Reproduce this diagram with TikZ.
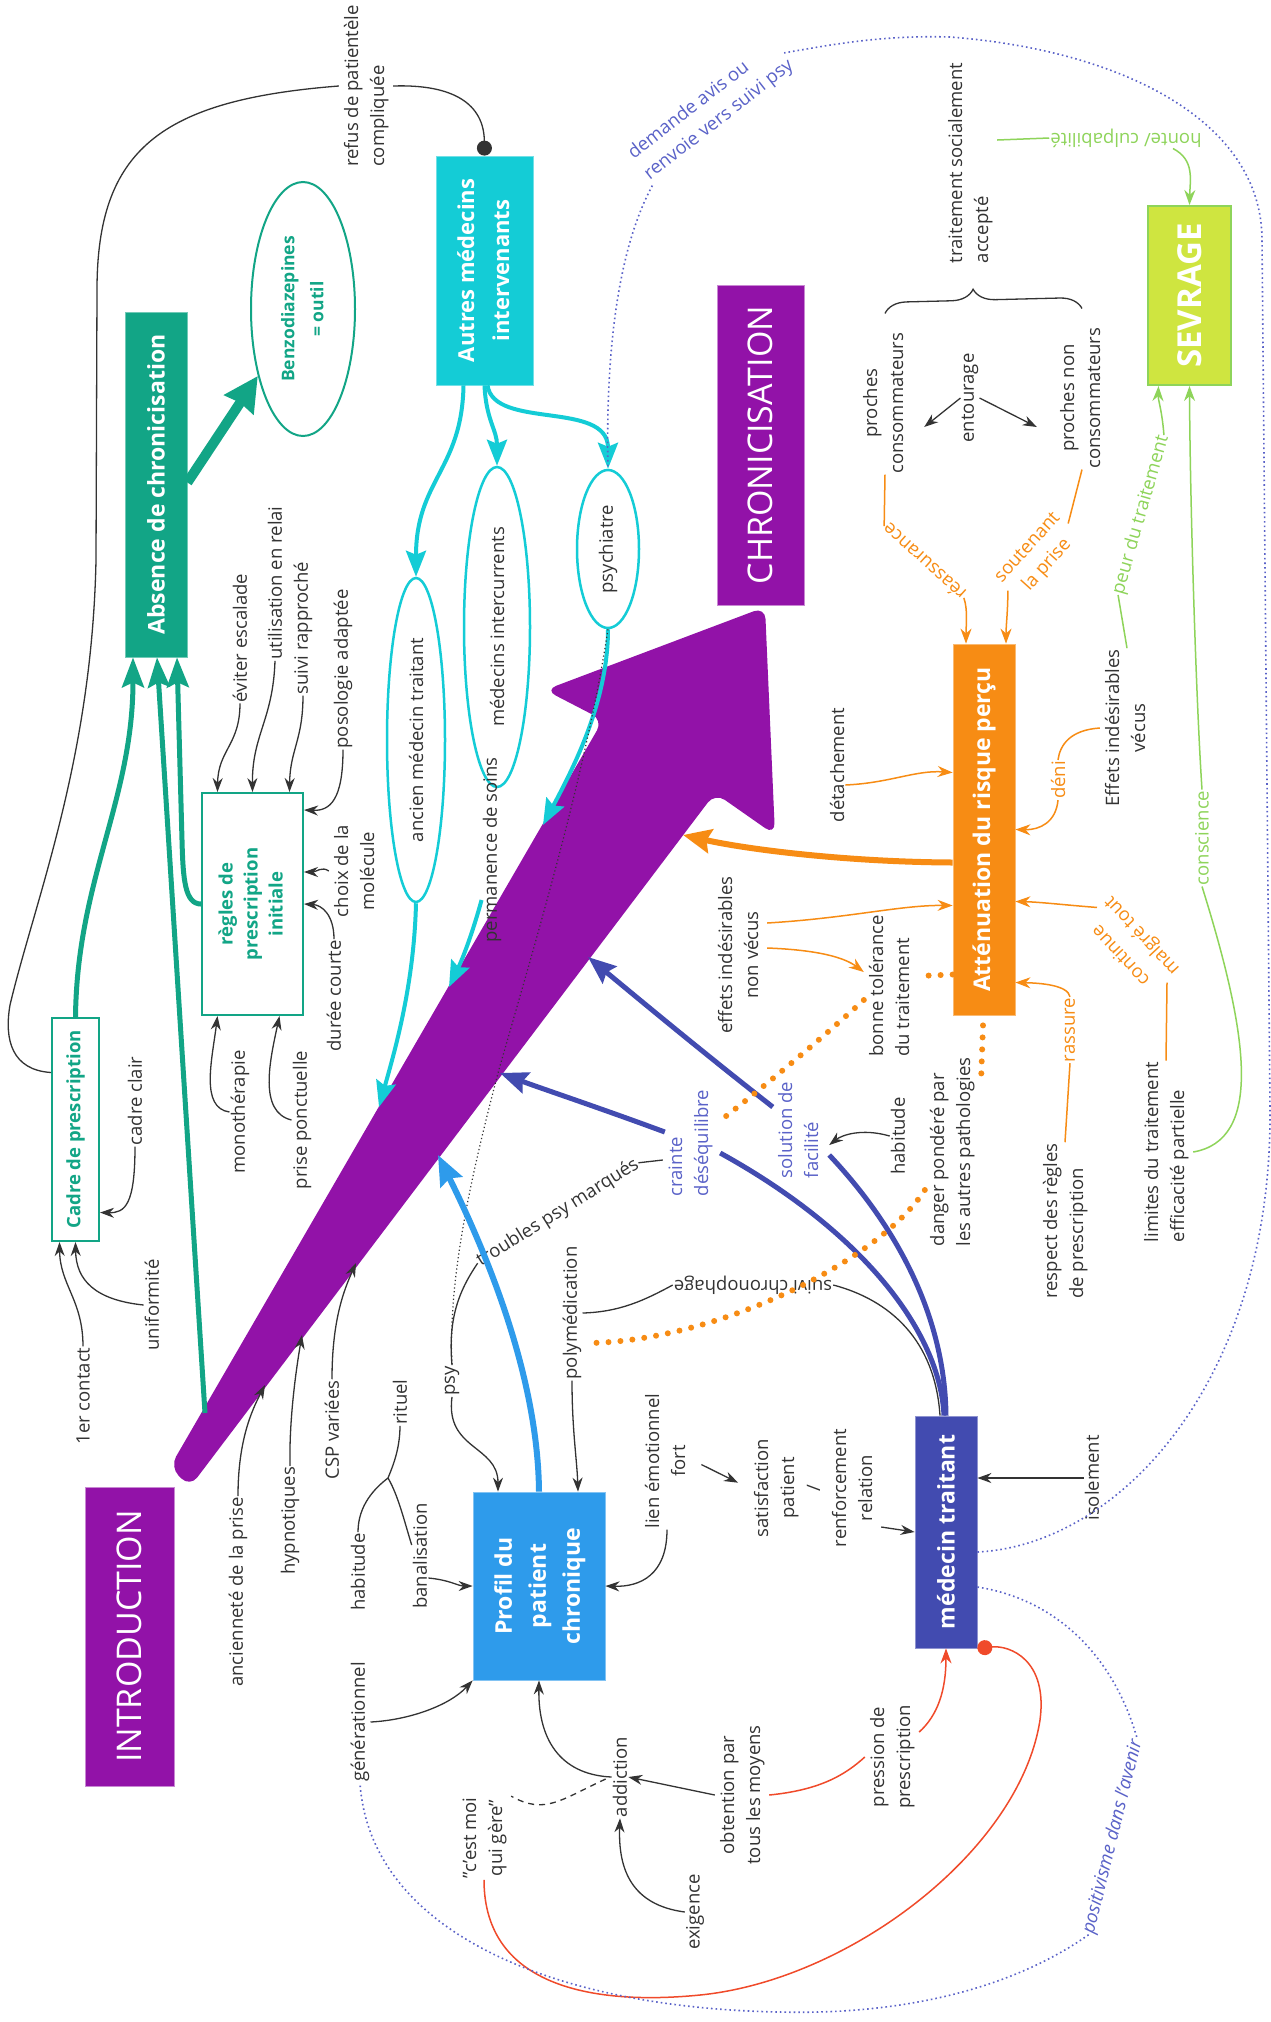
\documentclass[tikz,border=0pt]{standalone}
\usepackage{fontspec}
\setmainfont{Open Sans}
\usepackage{graphicx}
\usetikzlibrary{arrows.meta, calc, shapes.geometric, decorations.pathreplacing}
\definecolor{chrpurple}{HTML}{9212A8}
\definecolor{absteal}{HTML}{12A586}
\definecolor{medcyan}{HTML}{14CCD6}
\definecolor{patblue}{HTML}{2E9BEB}
\definecolor{mtindigo}{HTML}{424BB0}
\definecolor{attorange}{HTML}{F78C14}
\definecolor{sevlime}{HTML}{CFE540}
\definecolor{sevgreen}{HTML}{8ED45A}
\definecolor{presred}{HTML}{F04A2A}
\definecolor{dotblue}{HTML}{5A62C8}
\definecolor{ink}{HTML}{333333}
\newcommand{\vtc}[1]{\rotatebox{90}{\begin{tabular}{@{}c@{}}#1\end{tabular}}}
\newcommand{\vtl}[1]{\rotatebox{90}{\begin{tabular}{@{}l@{}}#1\end{tabular}}}
\newcommand{\lblfont}{\fontsize{18.5}{26}\selectfont}
\newcommand{\hubfont}{\fontsize{23}{34}\selectfont\bfseries}
\newcommand{\subfont}{\fontsize{18.5}{25}\selectfont\bfseries}

\begin{document}
\begin{tikzpicture}[
  x=1pt, y=-1pt,
  lbl/.style={font=\lblfont, text=ink, inner sep=1pt},
  olbl/.style={lbl, text=attorange},
  glbl/.style={lbl, text=sevgreen},
  ilbl/.style={lbl, text=dotblue},
  hub/.style={fill=#1, draw=#1!60!white, line width=0.8pt, text=white, inner sep=0pt, font=\hubfont},
  bigtitle/.style={fill=chrpurple, draw=chrpurple!50!white, line width=1pt, text=white, inner sep=0pt, font=\fontsize{34}{40}\selectfont},
  framebox/.style={fill=white, draw=absteal, line width=2pt, text=absteal, inner sep=0pt, font=\subfont},
  oval/.style={ellipse, draw=#1, line width=2.5pt, inner sep=0pt, font=\lblfont, text=ink},
  thinln/.style={line width=1.3pt, draw=ink},
  conn/.style={thinln, -{Stealth[length=14pt,width=10pt]}},
  tealarr/.style={line width=5pt, draw=absteal, -{Stealth[length=30pt,width=22pt,inset=5pt]}},
  cyanarr/.style={line width=4pt, draw=medcyan, -{Stealth[length=26pt,width=20pt,inset=4pt]}},
  indline/.style={line width=5pt, draw=mtindigo},
  indarr/.style={indline, -{Stealth[length=28pt,width=22pt,inset=4pt]}},
  bluearr/.style={line width=6pt, draw=patblue, -{Stealth[length=30pt,width=24pt,inset=4pt]}},
  oline/.style={line width=1.5pt, draw=attorange},
  oarr/.style={oline, -{Stealth[length=15pt,width=11pt]}},
  othick/.style={line width=6pt, draw=attorange, -{Stealth[length=28pt,width=24pt,inset=4pt]}},
  odot/.style={line width=6pt, draw=attorange, line cap=round, dash pattern=on 0pt off 12pt},
  gline/.style={line width=1.5pt, draw=sevgreen},
  garr/.style={gline, -{Stealth[length=15pt,width=11pt]}},
  rline/.style={line width=1.5pt, draw=presred},
  rarr/.style={rline, -{Stealth[length=15pt,width=11pt]}},
  bdot/.style={line width=1.6pt, draw=dotblue, dash pattern=on 1.6pt off 3pt},
  kdot/.style={line width=1.2pt, draw=ink, dash pattern=on 1.2pt off 2.6pt},
]
\useasboundingbox (0,0) rectangle (1271,2022);
\fill[white] (0,0) rectangle (1271,2022);

% === BIG ARROW (introduction -> chronicisation) ===
\fill[chrpurple, rounded corners=12pt] (170,1467) -- (603,720) -- (545,690) -- (765,607)
  -- (775,835) -- (715,793) -- (190,1487) -- cycle;
\coordinate (tAnc) at (379,1107);
\coordinate (tPerm) at (449,987);
\coordinate (tPsy) at (543,825);
\coordinate (tOr) at (683,835);
\coordinate (tSol) at (588,957);
\coordinate (tCr) at (500,1073);
\coordinate (tBlue) at (438,1155);
\coordinate (tAP) at (265,1385);
\coordinate (tHyp) at (302,1335);
\coordinate (tCsp) at (356,1263);
\coordinate (tealfoot) at (205,1413);

% === MAIN BLOCKS ===
\node[bigtitle, minimum width=89pt, minimum height=299pt] (intro) at (129.5,1636.5) {\rotatebox{90}{INTRODUCTION}};
\node[bigtitle, minimum width=87pt, minimum height=320pt] (chron) at (760.5,445) {\rotatebox{90}{CHRONICISATION}};
\node[hub=absteal, minimum width=62pt, minimum height=345pt] (absence) at (156,484.5) {\rotatebox{90}{Absence de chronicisation}};
\node[oval=absteal, line width=2pt, minimum width=104pt, minimum height=254pt, text=absteal,
  font=\fontsize{17.5}{29}\selectfont\bfseries] (benzo) at (303,309) {\vtc{Benzodiazepines\\= outil}};
\node[hub=medcyan, minimum width=97pt, minimum height=229pt, font=\fontsize{22}{35}\selectfont\bfseries]
  (autres) at (484.5,270.5) {\vtc{Autres médecins\\intervenants}};
\node[oval=medcyan, minimum width=58pt, minimum height=324pt] (ancien) at (416,740) {\rotatebox{90}{ancien médecin traitant}};
\node[oval=medcyan, minimum width=66pt, minimum height=320pt] (intercur) at (497,627) {\rotatebox{90}{médecins intercurrents}};
\node[oval=medcyan, minimum width=62pt, minimum height=158pt] (psych) at (608,549) {\rotatebox{90}{psychiatre}};
\node[hub=sevlime, draw=sevgreen, line width=2pt, minimum width=83pt, minimum height=179pt,
  font=\fontsize{33}{40}\selectfont\bfseries] (sevrage) at (1189.5,295.5) {\rotatebox{90}{SEVRAGE}};
\node[hub=attorange, minimum width=62pt, minimum height=371pt] (atten) at (984,829.5) {\rotatebox{90}{Atténuation du risque perçu}};
\node[hub=mtindigo, minimum width=62pt, minimum height=232pt] (medecin) at (946,1532) {\rotatebox{90}{médecin traitant}};
\node[hub=patblue, minimum width=132pt, minimum height=188pt] (profil) at (539,1586) {\vtc{Profil du\\patient\\chronique}};
\node[framebox, minimum width=47pt, minimum height=223pt] (cadre) at (75.5,1129.5) {\rotatebox{90}{Cadre de prescription}};
\node[framebox, minimum width=101pt, minimum height=222pt] (regles) at (252.5,904) {\vtc{règles de\\prescription\\initiale}};

% === LABELS ===
\node[lbl] (refus) at (366,86) {\vtl{refus de patientèle\\compliquée}};
\node[lbl] (trait) at (970,163) {\vtl{traitement socialement\\accepté}};
\node[lbl] (prochescons) at (885,403) {\vtc{proches\\consommateurs}};
\node[lbl] (entourage) at (970,398) {\rotatebox{90}{entourage}};
\node[lbl] (prochesnon) at (1082,398) {\vtc{proches non\\consommateurs}};
\node[glbl, rotate=180] (honte) at (1126,138) {honte/ culpabilité};
\node[olbl, rotate=138] (reassur) at (924,562) {réassurance};
\node[olbl, rotate=48, align=center] (soutenant) at (1038,557) {soutenant\\la prise};
\node[lbl] (effvecus) at (1127,728) {\vtc{Effets indésirables\\vécus}};
\node[olbl] (deni) at (1058,780) {\rotatebox{90}{déni}};
\node[glbl, rotate=74] (peur) at (1141,515) {peur du traitement};
\node[glbl] (conscience) at (1202,838) {\rotatebox{90}{conscience}};
\node[olbl, rotate=133, align=center, font=\fontsize{18.5}{29}\selectfont] (continue) at (1132,945) {continue\\malgré tout};
\node[lbl] (limites) at (1166,1152) {\vtl{limites du traitement\\efficacité partielle}};
\node[lbl] (respect) at (1065,1221) {\vtl{respect des règles\\de prescription}};
\node[olbl] (rassure) at (1070,1030) {\rotatebox{90}{rassure}};
\node[lbl] (danger) at (952,1152) {\vtl{danger pondéré par\\les autres pathologies}};
\node[lbl] (habitudeb) at (898,1136) {\rotatebox{90}{habitude}};
\node[lbl] (isolement) at (1092,1478) {\rotatebox{90}{isolement}};
\node[lbl] (bonne) at (891,986) {\vtl{bonne tolérance\\du traitement}};
\node[lbl] (detach) at (837,765) {\rotatebox{90}{détachement}};
\node[lbl] (nonvecus) at (740,955) {\vtc{effets indésirables\\non vécus}};
\node[ilbl] (crainte) at (690,1143) {\vtl{crainte\\déséquilibre}};
\node[ilbl] (solution) at (800,1130) {\vtl{solution de\\facilité}};
\node[lbl, rotate=32] (troubles) at (558,1213) {troubles psy marqués};
\node[lbl] (psy) at (452,1381) {\rotatebox{90}{psy}};
\node[lbl] (polymed) at (572,1313) {\rotatebox{90}{polymédication}};
\node[lbl, rotate=180] (chrono) at (753,1285) {suivi chronophage};
\node[lbl] (lien) at (667,1461) {\vtc{lien émotionnel\\fort}};
\node[lbl] (satis) at (815,1488) {\vtc{satisfaction\\patient\\/\\renforcement\\relation}};
\node[lbl] (rituel) at (400,1402) {\rotatebox{90}{rituel}};
\node[lbl] (habitudea) at (358,1572) {\rotatebox{90}{habitude}};
\node[lbl] (banal) at (420,1556) {\rotatebox{90}{banalisation}};
\node[lbl] (gener) at (360,1722) {\rotatebox{90}{générationnel}};
\node[lbl] (anciennete) at (238,1592) {\rotatebox{90}{ancienneté de la prise}};
\node[lbl] (hypno) at (290,1521) {\rotatebox{90}{hypnotiques}};
\node[lbl] (csp) at (332,1430) {\rotatebox{90}{CSP variées}};
\node[lbl] (uniform) at (152,1305) {\rotatebox{90}{uniformité}};
\node[lbl] (premier) at (83,1396) {\rotatebox{90}{1er contact}};
\node[lbl] (cadreclair) at (135,1101) {\rotatebox{90}{cadre clair}};
\node[lbl] (mono) at (240,1112) {\rotatebox{90}{monothérapie}};
\node[lbl] (ponct) at (302,1120) {\rotatebox{90}{prise ponctuelle}};
\node[lbl] (duree) at (334,996) {\rotatebox{90}{durée courte}};
\node[lbl] (choix) at (356,871) {\vtc{choix de la\\molécule}};
\node[lbl] (poso) at (343,669) {\rotatebox{90}{posologie adaptée}};
\node[lbl] (suivirap) at (303,628) {\rotatebox{90}{suivi rapproché}};
\node[lbl] (utilis) at (275,583) {\rotatebox{90}{utilisation en relai}};
\node[lbl] (eviter) at (240,638) {\rotatebox{90}{éviter escalade}};
\node[lbl] (perm) at (492,850) {\rotatebox{90}{permanence de soins}};
\node[lbl] (addiction) at (620,1777) {\rotatebox{90}{addiction}};
\node[lbl] (cestmoi) at (484,1838) {\vtc{"c'est moi\\qui gère"}};
\node[lbl] (exigence) at (695,1912) {\rotatebox{90}{exigence}};
\node[lbl] (obtention) at (742,1795) {\vtc{obtention par\\tous les moyens}};
\node[lbl] (pression) at (892,1757) {\vtc{pression de\\prescription}};
\node[ilbl, rotate=38, align=left] (demande) at (711,110) {demande avis ou\\renvoie vers suivi psy};
\node[ilbl, rotate=76, font=\lblfont\itshape] (positiv) at (1113,1837) {positivisme dans l'avenir};

% === TEAL LINKS ===
\draw[absteal, line width=10pt, -{Stealth[length=34pt,width=34pt,inset=2pt]}] ($(absence.east)+(0,-2)$) -- (benzo.236);
\draw[tealarr] (cadre.north) .. controls (77,880) and (133,800) .. ($(absence.south)+(-23,0)$);
\draw[tealarr] (tealfoot) -- ($(absence.south)+(1,0)$);
\draw[tealarr] (regles.west) .. controls (185,904) and (183,880) .. (182,840) -- ($(absence.south)+(21,0)$);

% === CYAN LINKS ===
\draw[cyanarr] ($(autres.south)+(-21,0)$) .. controls (462,470) and (416,480) .. (ancien.north);
\draw[cyanarr] (autres.south) .. controls (486,420) and (497,430) .. (intercur.north);
\draw[cyanarr] ($(autres.south)+(3,0)$) .. controls (494,430) and (608,400) .. (psych.north);
\draw[cyanarr] (ancien.south) .. controls (414,985) and (395,1050) .. (tAnc);
\draw[cyanarr] ($(perm.west)+(0,50)$) .. controls (472,935) and (462,960) .. (tPerm);
\draw[cyanarr] (psych.south) .. controls (608,700) and (575,765) .. (tPsy);

% === BLACK LINKS ===
\draw[thinln] ($(cadre.west)+(0,-57)$) .. controls (12,1070) and (4,1040) .. (10,1005)
  .. controls (35,900) and (92,760) .. (96,560) -- (97,290) .. controls (97,150) and (160,100) .. (refus.west);
\draw[thinln, -{Circle[length=15pt]}] (refus.east) .. controls (455,84) and (484,105) .. (autres.north);
\draw[conn] (eviter.south) .. controls (240,745) and (218,750) .. ($(regles.north)+(-35,0)$);
\draw[conn] (utilis.south) .. controls (273,720) and (252,735) .. (regles.north);
\draw[conn] (suivirap.south) .. controls (303,740) and (290,750) .. ($(regles.north)+(37,0)$);
\draw[conn] (poso.south) .. controls (343,800) and (330,811) .. ($(regles.east)+(0,-94)$);
\draw[conn] (choix.west) .. controls (322,866) and (316,872) .. ($(regles.east)+(0,-32)$);
\draw[conn] (duree.north) .. controls (334,915) and (322,905) .. (regles.east);
\draw[conn] (mono.west) .. controls (200,1108) and (212,1060) .. ($(regles.south)+(-35,0)$);
\draw[conn] (ponct.west) .. controls (258,1112) and (270,1060) .. ($(regles.south)+(27,0)$);
\draw[conn] (cadreclair.south) .. controls (135,1205) and (125,1213) .. ($(cadre.east)+(0,83)$);
\draw[conn] (uniform.west) .. controls (95,1300) and (76,1280) .. (cadre.south);
\draw[conn] (premier.north) .. controls (83,1300) and (60,1285) .. ($(cadre.south)+(-16,0)$);
\draw[conn] (anciennete.north) .. controls (238,1440) and (252,1410) .. (tAP);
\draw[conn] (hypno.north) .. controls (289,1420) and (296,1370) .. (tHyp);
\draw[conn] (csp.north) .. controls (332,1320) and (344,1290) .. (tCsp);
\coordinate (rj) at (388,1478);
\draw[thinln] (rituel.south) .. controls (400,1450) and (392,1468) .. (rj);
\draw[thinln] (habitudea.north) .. controls (358,1505) and (375,1488) .. (rj);
\draw[thinln] (rj) .. controls (398,1495) and (404,1520) .. ($(banal.west)+(0,-11)$);
\draw[conn] ($(banal.east)+(0,22)$) .. controls (450,1580) and (458,1586) .. (profil.west);
\draw[conn] (gener.east) .. controls (410,1720) and (450,1705) .. (profil.south west);
\draw[conn] (psy.south) .. controls (445,1450) and (498,1445) .. ($(profil.north)+(-41,0)$);
\draw[conn] (polymed.south) .. controls (572,1430) and (577,1460) .. ($(profil.north)+(39,0)$);
\draw[conn] (lien.south) .. controls (667,1575) and (640,1587) .. (profil.east);
\draw[conn, shorten <=8pt, shorten >=12pt] (lien.east) -- (satis.west);
\draw[conn] ($(satis.east)+(0,39)$) -- (medecin.west);
\draw[conn] (isolement.west) -- ($(medecin.east)+(0,-54)$);
\draw[conn] (habitudeb.west) .. controls (862,1128) and (842,1135) .. ($(solution.east)+(2,15)$);
\draw[conn] (addiction.west) .. controls (565,1775) and (538,1745) .. (profil.south);
\draw[thinln, dash pattern=on 6pt off 5pt] ($(addiction.west)+(-6,2)$) .. controls (560,1800) and (545,1815) .. (cestmoi.north east);
\draw[conn] (exigence.west) .. controls (632,1905) and (618,1870) .. (addiction.south);
\draw[conn] (obtention.west) -- (addiction.east);
\draw[conn] (entourage.west) -- ($(prochescons.east)+(12,24)$);
\draw[conn] (entourage.east) -- ($(prochesnon.west)+(-18,29)$);
\draw[thinln, decorate, decoration={brace, amplitude=22pt, aspect=0.45}]
  ([yshift=18pt]prochescons.north) -- ([yshift=18pt]prochesnon.north);
\draw[thinln] (polymed.east) .. controls (620,1312) and (645,1300) .. (chrono.east);
\draw[thinln] (chrono.west) .. controls (890,1300) and (935,1340) .. ($(medecin.north)+(-6,0)$);
\draw[thinln] (troubles.east) -- ($(crainte.west)+(0,17)$);
\draw[thinln] (troubles.west) .. controls (458,1292) and (448,1320) .. (psy.north);
\draw[kdot] (psych.south) .. controls (585,780) and (530,960) .. (498,1073) .. controls (470,1180) and (448,1280) .. (psy.north);

% === INDIGO AND BLUE LINKS ===
\draw[indarr] ($(solution.west)+(0,-23)$) .. controls (700,1050) and (640,1000) .. (tSol);
\draw[indline] ($(solution.east)+(2,25)$) .. controls (900,1230) and (945,1320) .. (medecin.north);
\draw[indarr] ($(crainte.west)+(2,-11)$) .. controls (600,1108) and (540,1088) .. (tCr);
\draw[indline] ($(crainte.east)+(3,10)$) .. controls (860,1230) and (940,1330) .. ($(medecin.north)+(-2,0)$);
\draw[bluearr] (profil.north) .. controls (538,1380) and (490,1260) .. (tBlue);

% === ORANGE LINKS ===
\draw[oarr] ($(nonvecus.east)+(0,-32)$) .. controls (850,918) and (900,905) .. ($(atten.west)+(0,76)$);
\draw[oarr] ($(nonvecus.east)+(0,-7)$) .. controls (820,950) and (845,958) .. ($(bonne.west)+(0,-14)$);
\draw[oarr] ($(detach.east)+(0,20)$) .. controls (890,783) and (915,770) .. ($(atten.west)+(0,-57)$);
\draw[othick] ($(atten.west)+(0,33)$) .. controls (850,862) and (750,850) .. (tOr);
\draw[oline] (prochescons.south) -- (reassur.east);
\draw[oarr] (reassur.west) .. controls (968,610) and (966,625) .. ($(atten.north)+(-18,0)$);
\draw[oline] (prochesnon.south) -- (soutenant.east);
\draw[oarr] (soutenant.west) .. controls (1008,610) and (1006,625) .. ($(atten.north)+(22,0)$);
\draw[oline] (effvecus.west) .. controls (1070,730) and (1060,745) .. (deni.north);
\draw[oarr] (deni.south) .. controls (1056,822) and (1040,830) .. (atten.east);
\draw[oline] (limites.north) -- (continue.west);
\draw[oarr] (continue.east) .. controls (1065,905) and (1040,902) .. ($(atten.east)+(0,72)$);
\draw[oline] (respect.north) -- (rassure.south);
\draw[oarr] (rassure.north) .. controls (1068,985) and (1040,983) .. ($(atten.east)+(0,153)$);
\draw[odot] ($(atten.west)+(0,145)$) -- ($(bonne.east)+(0,-10)$);
\draw[odot] ($(bonne.west)+(0,14)$) .. controls (820,1040) and (760,1090) .. ($(crainte.east)+(0,-20)$);
\draw[odot] ($(atten.south)+(-1,10)$) -- ($(danger.north east)+(2,20)$);
\draw[odot] ($(danger.west)+(0,38)$) .. controls (880,1260) and (720,1340) .. ($(polymed.east)+(8,30)$);

% === GREEN LINKS ===
\draw[gline] ($(trait.east)+(0,-23)$) -- (honte.east);
\draw[garr] ($(honte.north)+(47,0)$) .. controls (1195,160) and (1190,180) .. (sevrage.north);
\draw[gline] (effvecus.north) -- (peur.west);
\draw[garr] (peur.east) .. controls (1162,410) and (1158,400) .. ($(sevrage.south)+(-31,0)$);
\draw[gline] (limites.east) .. controls (1262,1140) and (1250,1040) .. (conscience.south);
\draw[garr] (conscience.north) .. controls (1196,700) and (1190,500) .. (sevrage.south);

% === RED LINKS ===
\draw[rline] (obtention.east) .. controls (820,1790) and (845,1775) .. (pression.west);
\draw[rarr] ($(pression.east)+(0,-25)$) .. controls (938,1715) and (946,1690) .. (medecin.south);
\draw[rline, -{Circle[length=15pt]}] (cestmoi.south) .. controls (484,1990) and (600,2005) .. (700,1995)
  .. controls (850,1980) and (1020,1850) .. (1040,1720) .. controls (1048,1660) and (1010,1645) .. (medecin.south east);

% === DOTTED BLUE LINKS ===
\draw[bdot] ($(medecin.east)+(0,20)$) .. controls (1120,1545) and (1272,1380) .. (1270,1110) -- (1262,240)
  .. controls (1262,120) and (1120,50) .. (950,37) .. controls (880,35) and (830,45) .. (demande.east);
\draw[bdot] (demande.south west) .. controls (612,260) and (606,380) .. (psych.north);
\draw[bdot] ($(medecin.east)+(0,55)$) .. controls (1060,1600) and (1115,1660) .. (positiv.east);
\draw[bdot] (positiv.west) .. controls (1010,1990) and (900,2015) .. (780,2012)
  .. controls (550,2008) and (370,1930) .. (gener.south);

\end{tikzpicture}
\end{document}
